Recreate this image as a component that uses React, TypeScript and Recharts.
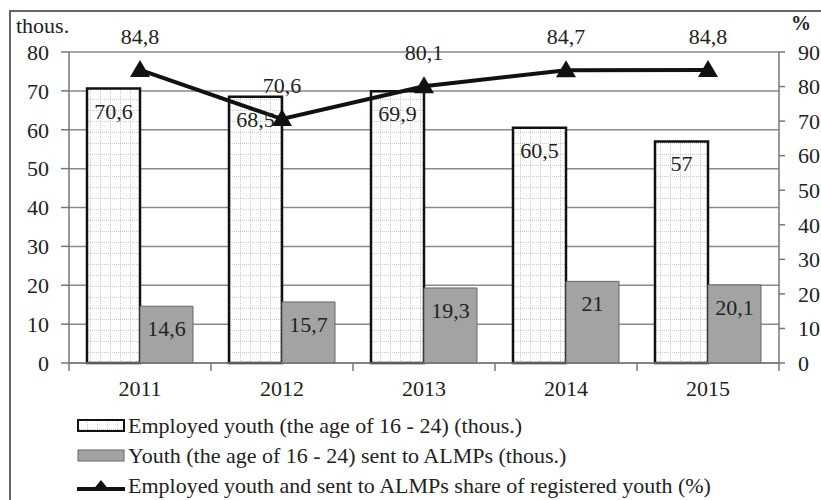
import React from 'react';
import {
    ComposedChart, Bar, Line, XAxis, YAxis, CartesianGrid, Legend, LabelList
} from 'recharts';

const years = ['2011', '2012', '2013', '2014', '2015'];
const employedYouth = [70.6, 68.5, 69.9, 60.5, 57];
const sentToAlmp = [14.6, 15.7, 19.3, 21, 20.1];
const sharePct = [84.8, 70.6, 80.1, 84.7, 84.8];
const leftTicks = [0, 10, 20, 30, 40, 50, 60, 70, 80];
const rightTicks = [0, 10, 20, 30, 40, 50, 60, 70, 80, 90];

const legendNames = [
    'Employed youth (the age of 16 - 24) (thous.)',
    'Youth (the age of 16 - 24) sent to ALMPs (thous.)',
    'Employed youth and sent to ALMPs share of registered youth (%)',
];

const data = years.map((year, i) => ({
    year,
    employed: employedYouth[i],
    sent: sentToAlmp[i],
    share: sharePct[i],
}));

const FONT = "'Liberation Serif', 'Times New Roman', serif";
const FS = 22;
const W = 821;
const H = 500;
const PLOT_LEFT = 69;
const PLOT_RIGHT = 779;
const BAND = (PLOT_RIGHT - PLOT_LEFT) / years.length;

const fmt = (v: number) => String(v).replace('.', ',');

const XTick = ({ x, y, payload, index }: any) => {
    const half = BAND / 2;
    return (
        <g>
            <line x1={x - half} x2={x - half} y1={y} y2={y + 8} stroke="#777" strokeWidth={1.5} />
            {index === years.length - 1 && (
                <line x1={x + half} x2={x + half} y1={y} y2={y + 8} stroke="#777" strokeWidth={1.5} />
            )}
            <text x={x} y={y + 28} textAnchor="middle" dominantBaseline="middle"
                fontFamily={FONT} fontSize={FS} fill="#222">{payload.value}</text>
        </g>
    );
};

const BarValue = ({ x, y, width, value }: any) => (
    <text x={x + width / 2} y={y + 25} textAnchor="middle" dominantBaseline="middle"
        fontFamily={FONT} fontSize={FS} fill="#222">{fmt(value)}</text>
);

const LineValue = ({ x, y, value }: any) => (
    <text x={x} y={y - 31} textAnchor="middle" dominantBaseline="middle"
        fontFamily={FONT} fontSize={FS} fill="#222">{fmt(value)}</text>
);

const Triangle = ({ cx, cy }: any) => (
    <polygon points={`${cx},${cy - 10} ${cx - 10},${cy + 7} ${cx + 10},${cy + 7}`} fill="#111" />
);

const LegendBox = () => (
    <div style={{ height: 97, paddingTop: 8, boxSizing: 'border-box', paddingLeft: 77, fontFamily: FONT, fontSize: FS, color: '#222', lineHeight: '24px' }}>
        {legendNames.map((name, i) => (
            <div key={name} style={{ height: 30, display: 'flex', alignItems: 'center', whiteSpace: 'nowrap' }}>
                <svg width={50} height={16} style={{ marginRight: 1 }}>
                    {i === 0 && <rect x={1} y={2} width={46} height={11} fill="url(#gridFill)" stroke="#111" strokeWidth={2} />}
                    {i === 1 && <rect x={1} y={2} width={46} height={11} fill="#a3a3a3" stroke="#666" strokeWidth={1} />}
                    {i === 2 && (
                        <g>
                            <line x1={0} x2={48} y1={11} y2={11} stroke="#111" strokeWidth={4} />
                            <polygon points="24,2 15,13 33,13" fill="#111" />
                        </g>
                    )}
                </svg>
                <span>{name}</span>
            </div>
        ))}
    </div>
);

export default function App() {
    return (
        <div style={{ position: 'absolute', left: 0, top: 0, width: W, height: H, overflow: 'hidden', background: '#fff' }}>
            <div style={{ position: 'absolute', left: 9, top: 10, width: 840, height: 540, border: '2px solid #666' }} />
            <div style={{ position: 'absolute', left: 16, top: 13, fontFamily: FONT, fontSize: FS, color: '#222' }}>thous.</div>
            <div style={{ position: 'absolute', left: 791, top: 12, fontFamily: FONT, fontSize: 20, fontWeight: 'bold', color: '#222' }}>%</div>
            <div style={{ position: 'absolute', left: 0, top: 0 }}>
                <ComposedChart width={W} height={H} data={data}
                    margin={{ top: 52, right: 0, bottom: 0, left: 0 }}
                    barGap={0} barCategoryGap="12.7%">
                    <defs>
                        <pattern id="gridFill" width={10} height={11} patternUnits="userSpaceOnUse">
                            <rect width={10} height={11} fill="#fff" />
                            <line x1={0} x2={10} y1={0.5} y2={0.5} stroke="#c8c8c8" strokeWidth={1} strokeDasharray="1 1" />
                            <line x1={0.5} x2={0.5} y1={0} y2={11} stroke="#c8c8c8" strokeWidth={1} strokeDasharray="1 1" />
                        </pattern>
                    </defs>
                    <CartesianGrid yAxisId="left" vertical={false} stroke="#8a8a8a" strokeWidth={1.5} />
                    <XAxis dataKey="year" height={40} tickSize={0} tickMargin={0} tickLine={false}
                        axisLine={{ stroke: '#777', strokeWidth: 1.5 }} tick={<XTick />} interval={0} />
                    <YAxis yAxisId="left" domain={[0, 80]} ticks={leftTicks} width={69}
                        tickSize={8} tickMargin={12} axisLine={{ stroke: '#777', strokeWidth: 1.5 }}
                        tickLine={{ stroke: '#777', strokeWidth: 1.5 }}
                        tick={{ fontFamily: FONT, fontSize: FS, fill: '#222' }} />
                    <YAxis yAxisId="right" orientation="right" domain={[0, 90]} ticks={rightTicks} width={42}
                        tickSize={6} tickMargin={13} axisLine={{ stroke: '#777', strokeWidth: 1.5 }}
                        tickLine={{ stroke: '#777', strokeWidth: 1.5 }}
                        tick={{ fontFamily: FONT, fontSize: FS, fill: '#222', textAnchor: 'start' }} />
                    <Bar yAxisId="left" dataKey="employed" name={legendNames[0]} fill="url(#gridFill)"
                        stroke="#111" strokeWidth={2.5} barSize={53} isAnimationActive={false}>
                        <LabelList dataKey="employed" content={<BarValue />} />
                    </Bar>
                    <Bar yAxisId="left" dataKey="sent" name={legendNames[1]} fill="#a3a3a3"
                        stroke="#666" strokeWidth={1} barSize={53} isAnimationActive={false}>
                        <LabelList dataKey="sent" content={<BarValue />} />
                    </Bar>
                    <Line yAxisId="right" type="linear" dataKey="share" name={legendNames[2]}
                        stroke="#111" strokeWidth={4} dot={<Triangle />} activeDot={false}
                        isAnimationActive={false}>
                        <LabelList dataKey="share" content={<LineValue />} />
                    </Line>
                    <Legend verticalAlign="bottom" align="left" content={<LegendBox />}
                        wrapperStyle={{ left: 0, bottom: 0, width: W, height: 97 }} />
                </ComposedChart>
            </div>
        </div>
    );
}
